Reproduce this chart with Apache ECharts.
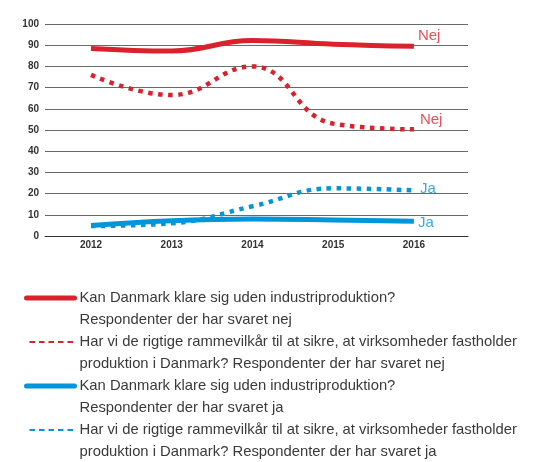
<!DOCTYPE html>
<html>
<head>
<meta charset="utf-8">
<script src="https://cdn.jsdelivr.net/npm/echarts@6/dist/echarts.min.js"></script>
<style>
  html, body { margin: 0; padding: 0; background: #fff; }
  #chart { width: 537px; height: 462px; }
</style>
</head>
<body>
<div id="chart"></div>
<script>
// years on the x axis
const years = [2012, 2013, 2014, 2015, 2016];

// values (percent)
const kanNej = [88.5, 87.3, 92.2, 90.5, 89.5];
const rammeNej = [76, 66.5, 80, 53, 50.3];
const kanJa = [5, 7.2, 8, 7.6, 7];
const rammeJa = [4.7, 6, 14, 22.5, 21.5];

const legendNames = [
    'Kan Danmark klare sig uden industriproduktion?\nRespondenter der har svaret nej',
    'Har vi de rigtige rammevilkår til at sikre, at virksomheder fastholder\nproduktion i Danmark? Respondenter der har svaret nej',
    'Kan Danmark klare sig uden industriproduktion?\nRespondenter der har svaret ja',
    'Har vi de rigtige rammevilkår til at sikre, at virksomheder fastholder\nproduktion i Danmark? Respondenter der har svaret ja'
];
const endTexts = ['Nej', 'Nej', 'Ja', 'Ja'];

const RED = '#d9222c';
const BLUE = '#0096d9';
const RED_TXT = '#e8505a';
const BLUE_TXT = '#33ade3';

const pairs = values => years.map((y, i) => [y, values[i]]);

function makeSeries(idx, values, color, txtColor, dotted, labelOffset) {
    return {
        name: legendNames[idx],
        type: 'line',
        data: pairs(values),
        smooth: 0.45,
        symbol: 'none',
        lineStyle: dotted
            ? { color: color, width: 4.5, type: [4.5, 5.5], cap: 'butt' }
            : { color: color, width: 5, cap: 'butt' },
        itemStyle: { color: color },
        endLabel: {
            show: true,
            formatter: endTexts[idx],
            color: txtColor,
            fontSize: 15,
            fontFamily: 'Liberation Sans',
            distance: 4,
            offset: labelOffset
        },
        z: dotted ? 3 : 2
    };
}

function legendItem(idx, color, dotted) {
    return {
        name: legendNames[idx],
        itemStyle: { opacity: 0 },
        lineStyle: dotted
            ? { color: color, width: 2.2, type: [5.5, 4], cap: 'butt', dashOffset: -3 }
            : { color: color, width: 5, type: 'solid', cap: 'round' }
    };
}

const chart = echarts.init(document.getElementById('chart'));

const option = {
    animation: false,
    grid: { left: 45, right: 69, top: 24, bottom: 226, containLabel: false },
    xAxis: {
        type: 'value',
        min: 2011.43,
        max: 2016.67,
        axisLine: { show: true, lineStyle: { color: '#333', width: 1 } },
        axisTick: { show: false },
        splitLine: { show: false },
        axisLabel: {
            customValues: years,
            formatter: v => String(v),
            color: '#333',
            fontSize: 10,
            fontWeight: 'bold',
            fontFamily: 'Liberation Sans',
            margin: 4
        }
    },
    yAxis: {
        type: 'value',
        min: 0,
        max: 100,
        interval: 10,
        axisLine: { show: false },
        axisTick: { show: false },
        axisLabel: {
            color: '#333',
            fontSize: 10,
            fontWeight: 'bold',
            fontFamily: 'Liberation Sans',
            margin: 6
        },
        splitLine: { lineStyle: { color: '#6a6a6a', width: 1 } }
    },
    legend: {
        orient: 'vertical',
        left: 24,
        top: 265.75,
        height: 260,
        padding: 0,
        itemWidth: 48,
        itemHeight: 14,
        itemGap: -20.5,
        selectedMode: false,
        // a blank first line keeps the icon level with the first text line
        formatter: name => '\n' + name,
        textStyle: {
            color: '#3a3a3a',
            fontSize: 14.8,
            fontFamily: 'Liberation Sans',
            lineHeight: 21.5
        },
        data: [
            legendItem(0, RED, false),
            legendItem(1, RED, true),
            legendItem(2, BLUE, false),
            legendItem(3, BLUE, true)
        ]
    },
    series: [
        makeSeries(0, kanNej, RED, RED_TXT, false, [0, -10]),
        makeSeries(1, rammeNej, RED, RED_TXT, true, [2, -10]),
        makeSeries(2, kanJa, BLUE, BLUE_TXT, false, [0, 2]),
        makeSeries(3, rammeJa, BLUE, BLUE_TXT, true, [2, -2])
    ]
};

chart.setOption(option);
</script>
</body>
</html>
